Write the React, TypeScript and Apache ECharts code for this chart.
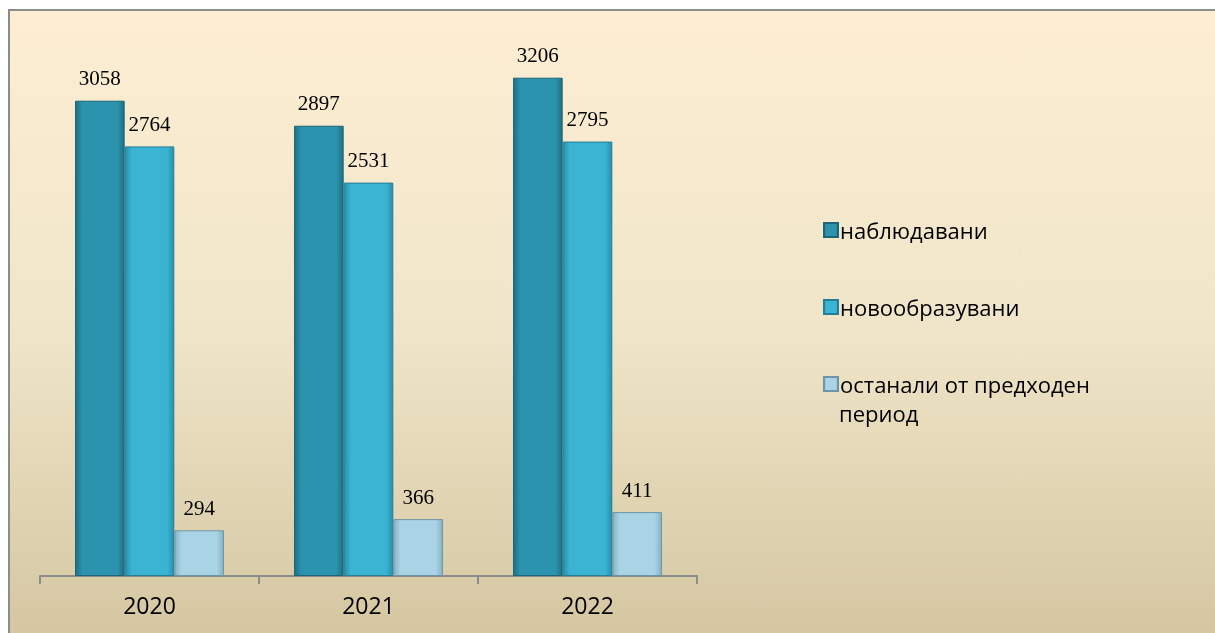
import React, { useEffect, useRef } from "react";
import * as echarts from "echarts";

const categories = ["2020", "2021", "2022"];
const seriesNames = ["наблюдавани", "новообразувани", "останали от предходен период"];
const observed = [3058, 2897, 3206];
const newlyFormed = [2764, 2531, 2795];
const remaining = [294, 366, 411];

function barGradient(edge: string, main: string) {
  return new echarts.graphic.LinearGradient(0, 0, 1, 0, [
    { offset: 0, color: edge },
    { offset: 0.14, color: main },
    { offset: 0.86, color: main },
    { offset: 1, color: edge },
  ]);
}

export default function App() {
  const ref = useRef<HTMLDivElement>(null);
  useEffect(() => {
    if (!ref.current) return;
    const chart = echarts.init(ref.current, null, { renderer: "svg" });
    const label = {
      show: true,
      position: "top",
      distance: 12,
      fontFamily: "Liberation Serif, serif",
      fontSize: 21,
      color: "#000",
    };
    const colors = [
      { edge: "#1f6f84", main: "#2b93ad", border: "#1d6578" },
      { edge: "#2790ab", main: "#3bb4d4", border: "#247f97" },
      { edge: "#86b2c3", main: "#a9d4e5", border: "#6f95a4" },
    ];
    const data = [observed, newlyFormed, remaining];
    chart.setOption({
      animation: false,
      graphic: [
        {
          type: "rect",
          z: -10,
          shape: { x: 9, y: 10, width: 1220, height: 640 },
          style: {
            fill: new echarts.graphic.LinearGradient(0, 0, 0, 1, [
              { offset: 0, color: "#fdeed3" },
              { offset: 0.5, color: "#f0e5c9" },
              { offset: 1, color: "#d3c59f" },
            ]),
            stroke: "#8c8c8c",
            lineWidth: 2,
          },
        },
        {
          type: "text",
          x: 839,
          y: 401,
          style: {
            text: "период",
            fontFamily: "Open Sans, sans-serif",
            fontSize: 22,
            lineHeight: 24,
            fill: "#000",
            verticalAlign: "top",
          },
        },
      ],
      legend: {
        orient: "vertical",
        left: 818,
        top: 212,
        itemWidth: 14,
        itemHeight: 14,
        itemGap: 51,
        icon: "rect",
        data: seriesNames,
        formatter: (name: string) =>
          name === seriesNames[2] ? "останали от предходен" : name,
        textStyle: {
          fontFamily: "Open Sans, sans-serif",
          fontSize: 22,
          color: "#000",
          lineHeight: 26,
          padding: [0, 0, 0, -3],
        },
      },
      grid: { left: 40, right: 518, top: 32, bottom: 57 },
      xAxis: {
        type: "category",
        data: categories,
        axisLine: { lineStyle: { color: "#8c8c8c", width: 2 } },
        axisTick: { show: true, length: 8, lineStyle: { color: "#8c8c8c", width: 2 } },
        axisLabel: {
          margin: 17,
          fontFamily: "Open Sans, sans-serif",
          fontSize: 23,
          color: "#000",
        },
      },
      yAxis: {
        type: "value",
        min: 0,
        max: 3500,
        show: false,
        splitLine: { show: false },
      },
      series: data.map((d, i) => ({
        name: seriesNames[i],
        type: "bar",
        data: d,
        barGap: "0%",
        barCategoryGap: "32%",
        label,
        itemStyle: {
          color: barGradient(colors[i].edge, colors[i].main),
          borderColor: colors[i].border,
          borderWidth: 1,
        },
      })),
    });
    return () => chart.dispose();
  }, []);
  return (
    <div
      ref={ref}
      style={{ position: "fixed", left: 0, top: 0, width: 1215, height: 633 }}
    />
  );
}
